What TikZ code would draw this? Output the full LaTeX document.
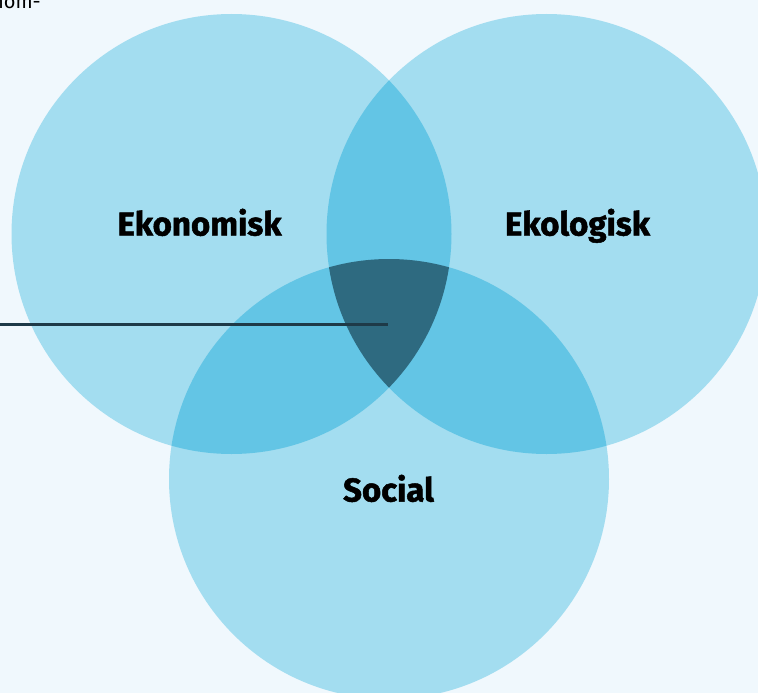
\documentclass[tikz,border=0pt]{standalone}
\usepackage{fontspec}
\setmainfont{Fira Sans}
\newfontfamily\lblfont{Fira Sans}[BoldFeatures={FakeBold=1.5}]
\definecolor{bg}{HTML}{F0F8FD}
\definecolor{c1}{HTML}{A3DDF0}
\definecolor{c2}{HTML}{63C5E5}
\definecolor{c3}{HTML}{2E6A80}
\definecolor{ln}{HTML}{1E3A48}
\tikzset{
  lbl/.style={font=\lblfont\bfseries\fontsize{33}{36}\selectfont, text=black, inner sep=0pt, anchor=base},
}
\begin{document}
\begin{tikzpicture}[x=1pt,y=-1pt]
\useasboundingbox (0,0) rectangle (758,693);
\clip (0,0) rectangle (758,693);
\fill[bg] (0,0) rectangle (758,693);
\coordinate (A) at (231.5,234);
\coordinate (B) at (546.5,234);
\coordinate (C) at (389,479);
\fill[c1] (A) circle[radius=220];
\fill[c1] (B) circle[radius=220];
\fill[c1] (C) circle[radius=220];
\begin{scope}
  \clip (A) circle[radius=220];
  \fill[c2] (B) circle[radius=220];
  \fill[c2] (C) circle[radius=220];
\end{scope}
\begin{scope}
  \clip (B) circle[radius=220];
  \fill[c2] (C) circle[radius=220];
\end{scope}
\begin{scope}
  \clip (A) circle[radius=220];
  \clip (B) circle[radius=220];
  \fill[c3] (C) circle[radius=220];
\end{scope}
\node[lbl] (eko) at (199.5,235.5) {Ekonomisk};
\node[lbl] (ekol) at (577.5,235.5) {Ekologisk};
\node[lbl] (soc) at (388.5,501.5) {Social};
\coordinate (p) at (388,324);
\coordinate (q) at (0,324);
\draw[ln, line width=3pt] (q) -- (p);
\node[anchor=base west, inner sep=0pt, font=\fontsize{20}{24}\selectfont] (nom) at (-8,9) {nom-};
\end{tikzpicture}
\end{document}
